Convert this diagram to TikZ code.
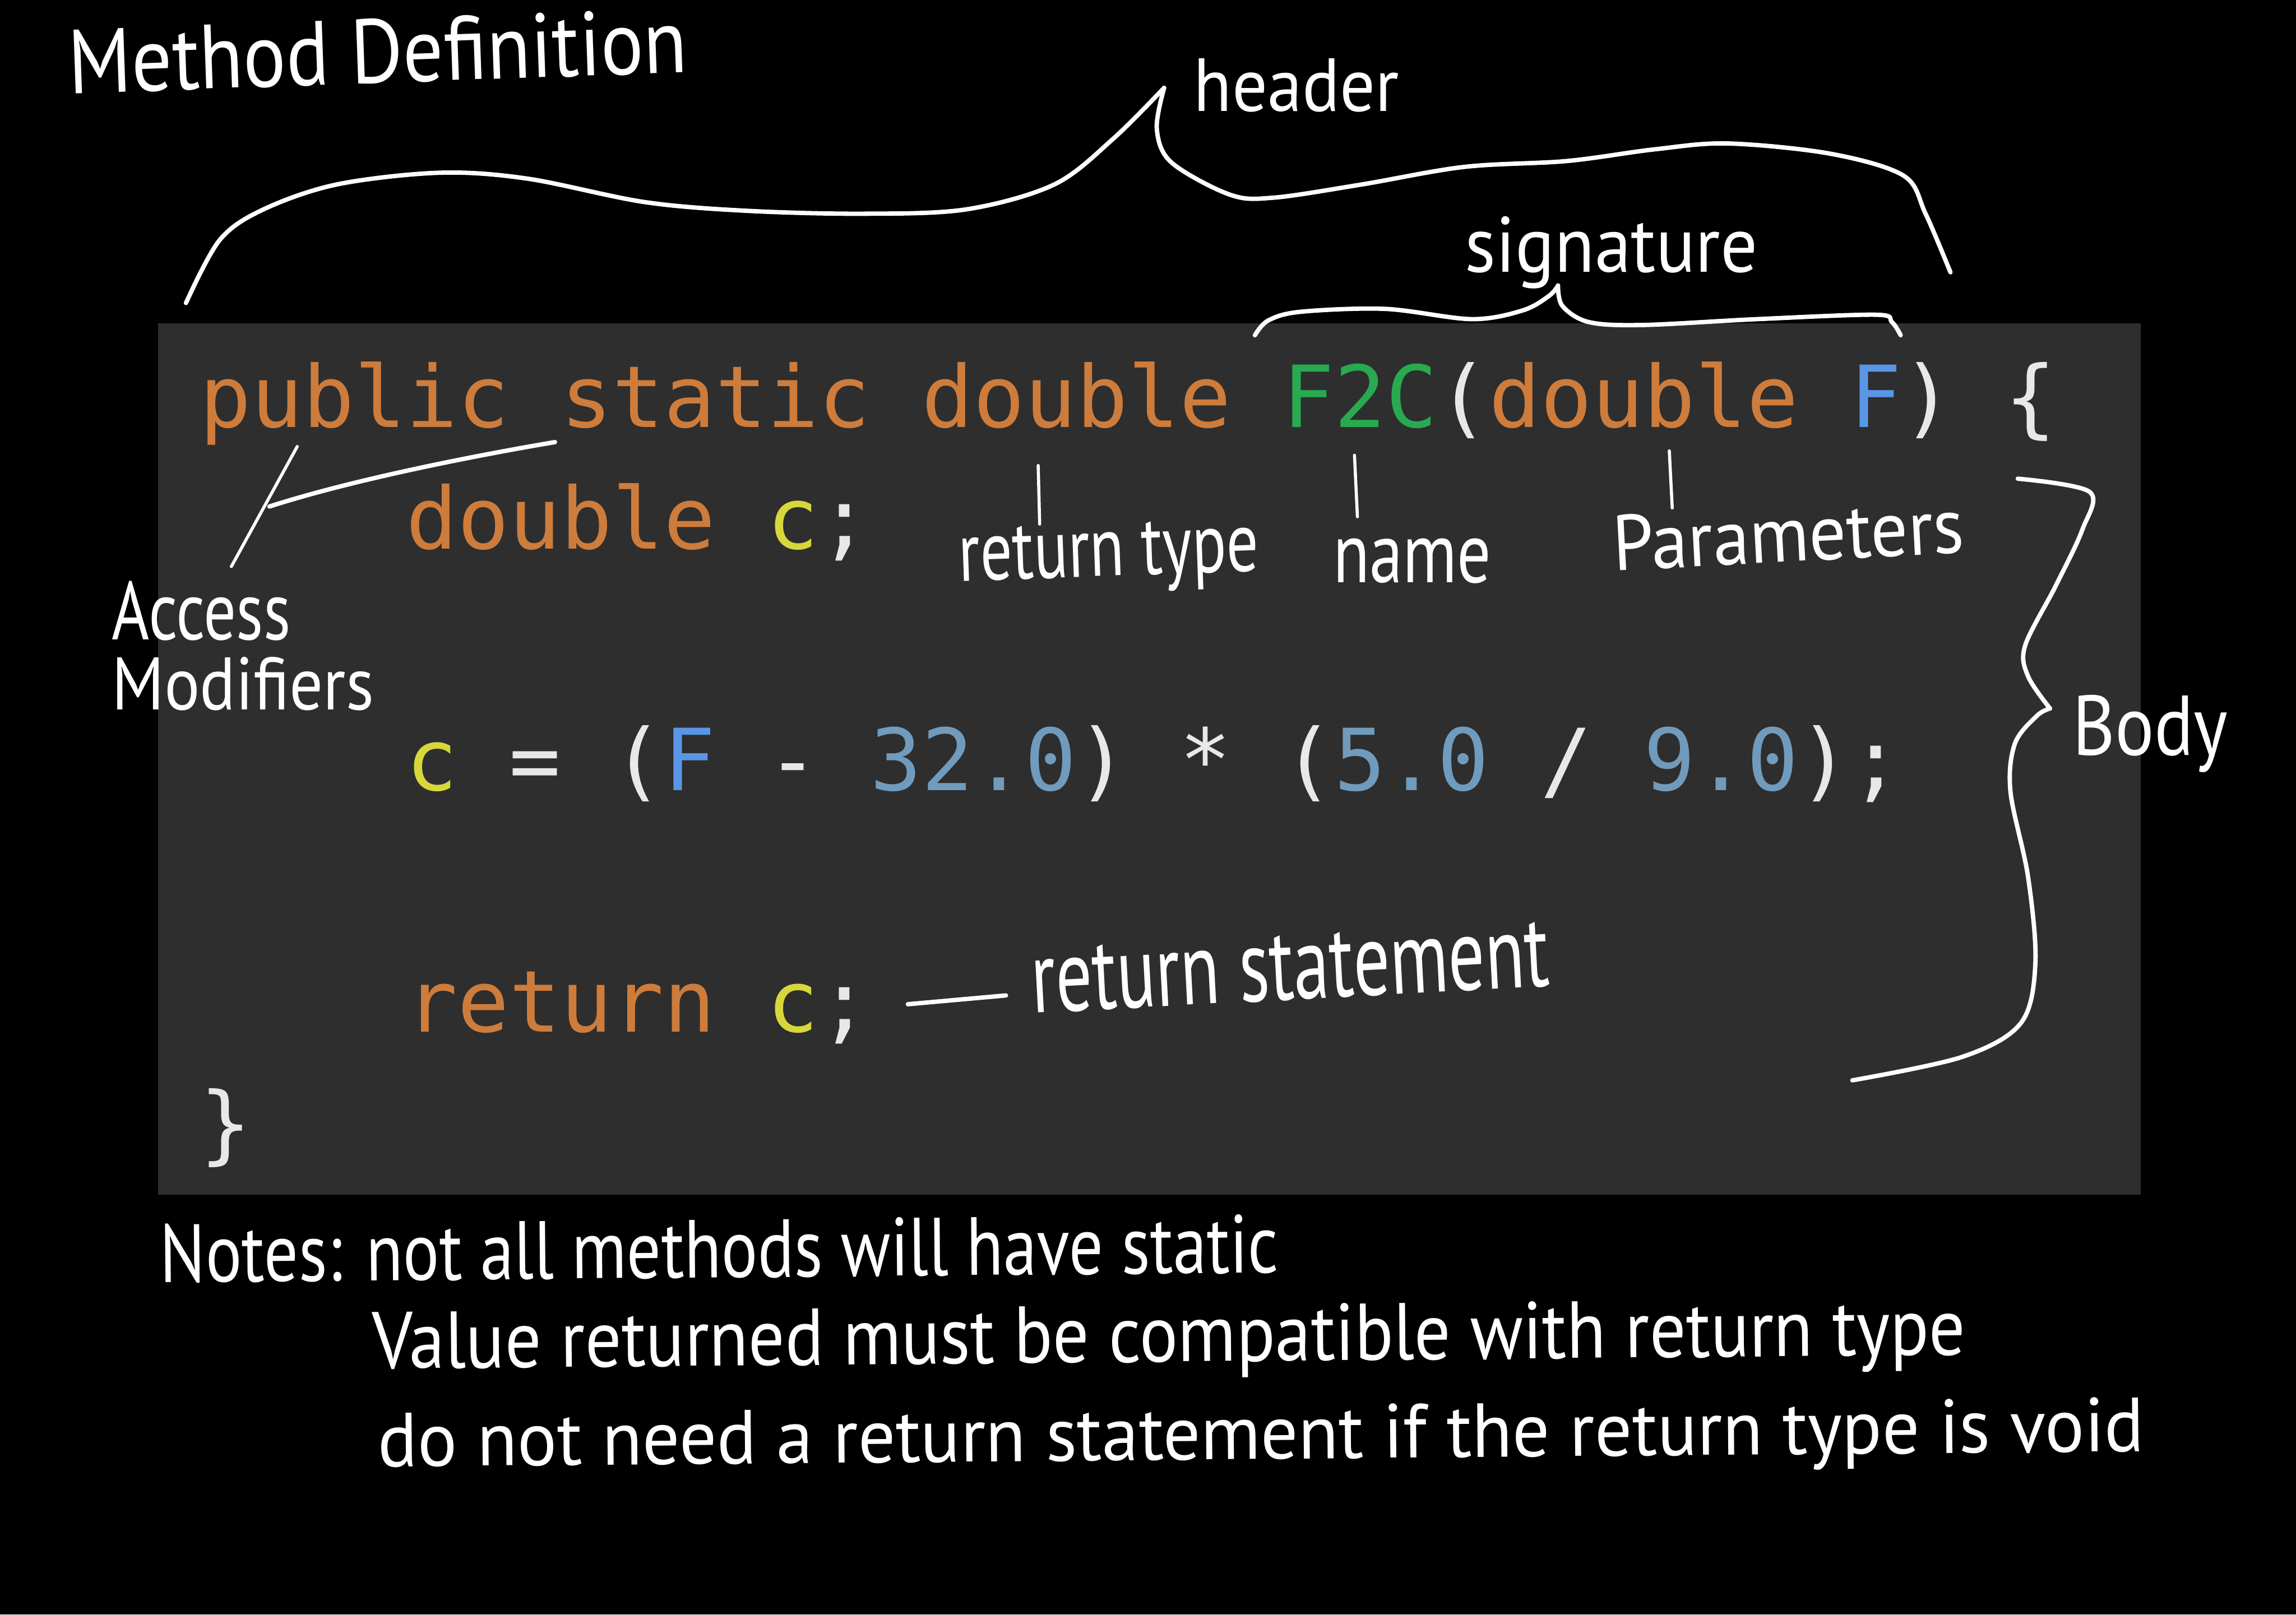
\documentclass[tikz,border=0pt]{standalone}
\usepackage{fontspec}
\usepackage{graphicx}
\setmonofont{DejaVu Sans Mono}
\newfontfamily\hand{PT Sans}
\newlength\upx
\setlength\upx{0.02cm}
\newcommand{\hw}[3]{\resizebox{#1\upx}{#2\upx}{\hand #3}}
\definecolor{bgbox}{RGB}{46,46,46}
\definecolor{kw}{RGB}{206,124,60}
\definecolor{fn}{RGB}{40,170,80}
\definecolor{cv}{RGB}{215,215,60}
\definecolor{par}{RGB}{90,150,230}
\definecolor{num}{RGB}{112,155,188}
\definecolor{pun}{RGB}{232,232,232}
\tikzset{
  code/.style={inner sep=0pt, anchor=base west, font=\ttfamily\fontsize{33.3pt}{40pt}\selectfont},
  note/.style={inner sep=0pt, anchor=base west, text=white},
  ink/.style={draw=white, line width=1.7pt, line cap=round, line join=round},
  thinink/.style={draw=white, line width=1.2pt, line cap=round, line join=round}
}
\begin{document}
\begin{tikzpicture}[x=0.02cm,y=-0.02cm]
\fill[black] (0,0) rectangle (1568,1103);
\useasboundingbox (0,0) rectangle (1568,1103);
% code box
\fill[bgbox] (108,221) rectangle (1462,816);
% code lines
\node[code] (l1) at (136,292) {{\color{kw}public static double} {\color{fn}F2C}{\color{pun}(}{\color{kw}double} {\color{par}F}{\color{pun})} {\color{pun}\{}};
\node[code] (l2) at (277,375) {{\color{kw}double} {\color{cv}c}{\color{pun};}};
\node[code] (l3) at (277,540) {{\color{cv}c} {\color{pun}=} {\color{pun}(}{\color{par}F} {\color{pun}-} {\color{num}32.0}{\color{pun})} {\color{pun}*} {\color{pun}(}{\color{num}5.0} {\color{pun}/} {\color{num}9.0}{\color{pun});}};
\node[code] (l4) at (277,705) {{\color{kw}return} {\color{cv}c}{\color{pun};}};
\node[code] (l5) at (136,788) {{\color{pun}\}}};
% titles and labels
\node[note, rotate=2] (title) at (47,64) {\hw{423}{44}{Method Definition}};
\node[note] (header) at (815,76) {\hw{140}{36}{header}};
\node[note] (signature) at (1000,186) {\hw{200}{38}{signature}};
\node[note, rotate=2] (rettype) at (655,397) {\hw{205}{36}{return type}};
\node[note] (name) at (910,398) {\hw{108}{30}{name}};
\node[note, rotate=3] (params) at (1102,390) {\hw{240}{38}{Parameters}};
\node[note] (access) at (76,437) {\hw{122}{40}{Access}};
\node[note] (modif) at (76,485) {\hw{179}{36}{Modifiers}};
\node[note] (body) at (1415,516) {\hw{106}{41}{Body}};
\node[note, rotate=3] (retstmt) at (705,692) {\hw{354}{44}{return statement}};
\node[note, rotate=0.5] (n1) at (109,876) {\hw{764}{40}{Notes: not all methods will have static}};
\node[note, rotate=0.5] (n2) at (254,935) {\hw{1088}{39}{Value returned must be compatible with return type}};
\node[note, rotate=0.5] (n3) at (258,1002) {\hw{1206}{37}{do not need a return statement if the return type is void}};
% header brace
\draw[ink] plot[smooth, tension=0.55] coordinates {(127,207) (150,164) (180,143) (230,126) (300,118) (360,122) (440,138) (510,144) (590,146) (660,143) (720,126) (760,95) (795,60)};
\draw[ink] plot[smooth, tension=0.55] coordinates {(795,60) (790,88) (800,111) (840,133) (870,135) (930,126) (1000,114) (1070,110) (1130,102) (1180,98) (1250,105) (1300,120) (1315,146) (1332,186)};
% signature brace
\draw[ink] plot[smooth, tension=0.55] coordinates {(857,229) (866,219) (888,213) (946,211) (1005,218) (1040,212) (1058,202) (1064,195)};
\draw[ink] plot[smooth, tension=0.55] coordinates {(1064,195) (1067,209) (1085,220) (1122,222) (1200,218) (1281,215) (1292,220) (1298,229)};
% body brace
\draw[ink] plot[smooth, tension=0.55] coordinates {(1378,327) (1427,336) (1422,362) (1404,400) (1383,441) (1385,462) (1400,484)};
\draw[ink] plot[smooth, tension=0.55] coordinates {(1400,484) (1391,489) (1376,508) (1373,541) (1385,599) (1390,658) (1380,699) (1340,722) (1265,738)};
% access modifier pointers
\coordinate (am1a) at (158,387); \coordinate (am1b) at (203,305);
\coordinate (am2a) at (184,346); \coordinate (am2b) at (379,302);
\draw[thinink] (am1a) -- (am1b);
\draw[ink] (am2a) .. controls (240,328) and (320,312) .. (am2b);
% ticks
\coordinate (t1a) at (709,318); \coordinate (t1b) at (710,358);
\coordinate (t2a) at (925,311); \coordinate (t2b) at (927,353);
\coordinate (t3a) at (1140,308); \coordinate (t3b) at (1142,347);
\draw[thinink] (t1a) -- (t1b);
\draw[thinink] (t2a) -- (t2b);
\draw[thinink] (t3a) -- (t3b);
% return statement dash
\coordinate (ra) at (620,686); \coordinate (rb) at (687,680);
\draw[ink] (ra) -- (rb);
\end{tikzpicture}
\end{document}
